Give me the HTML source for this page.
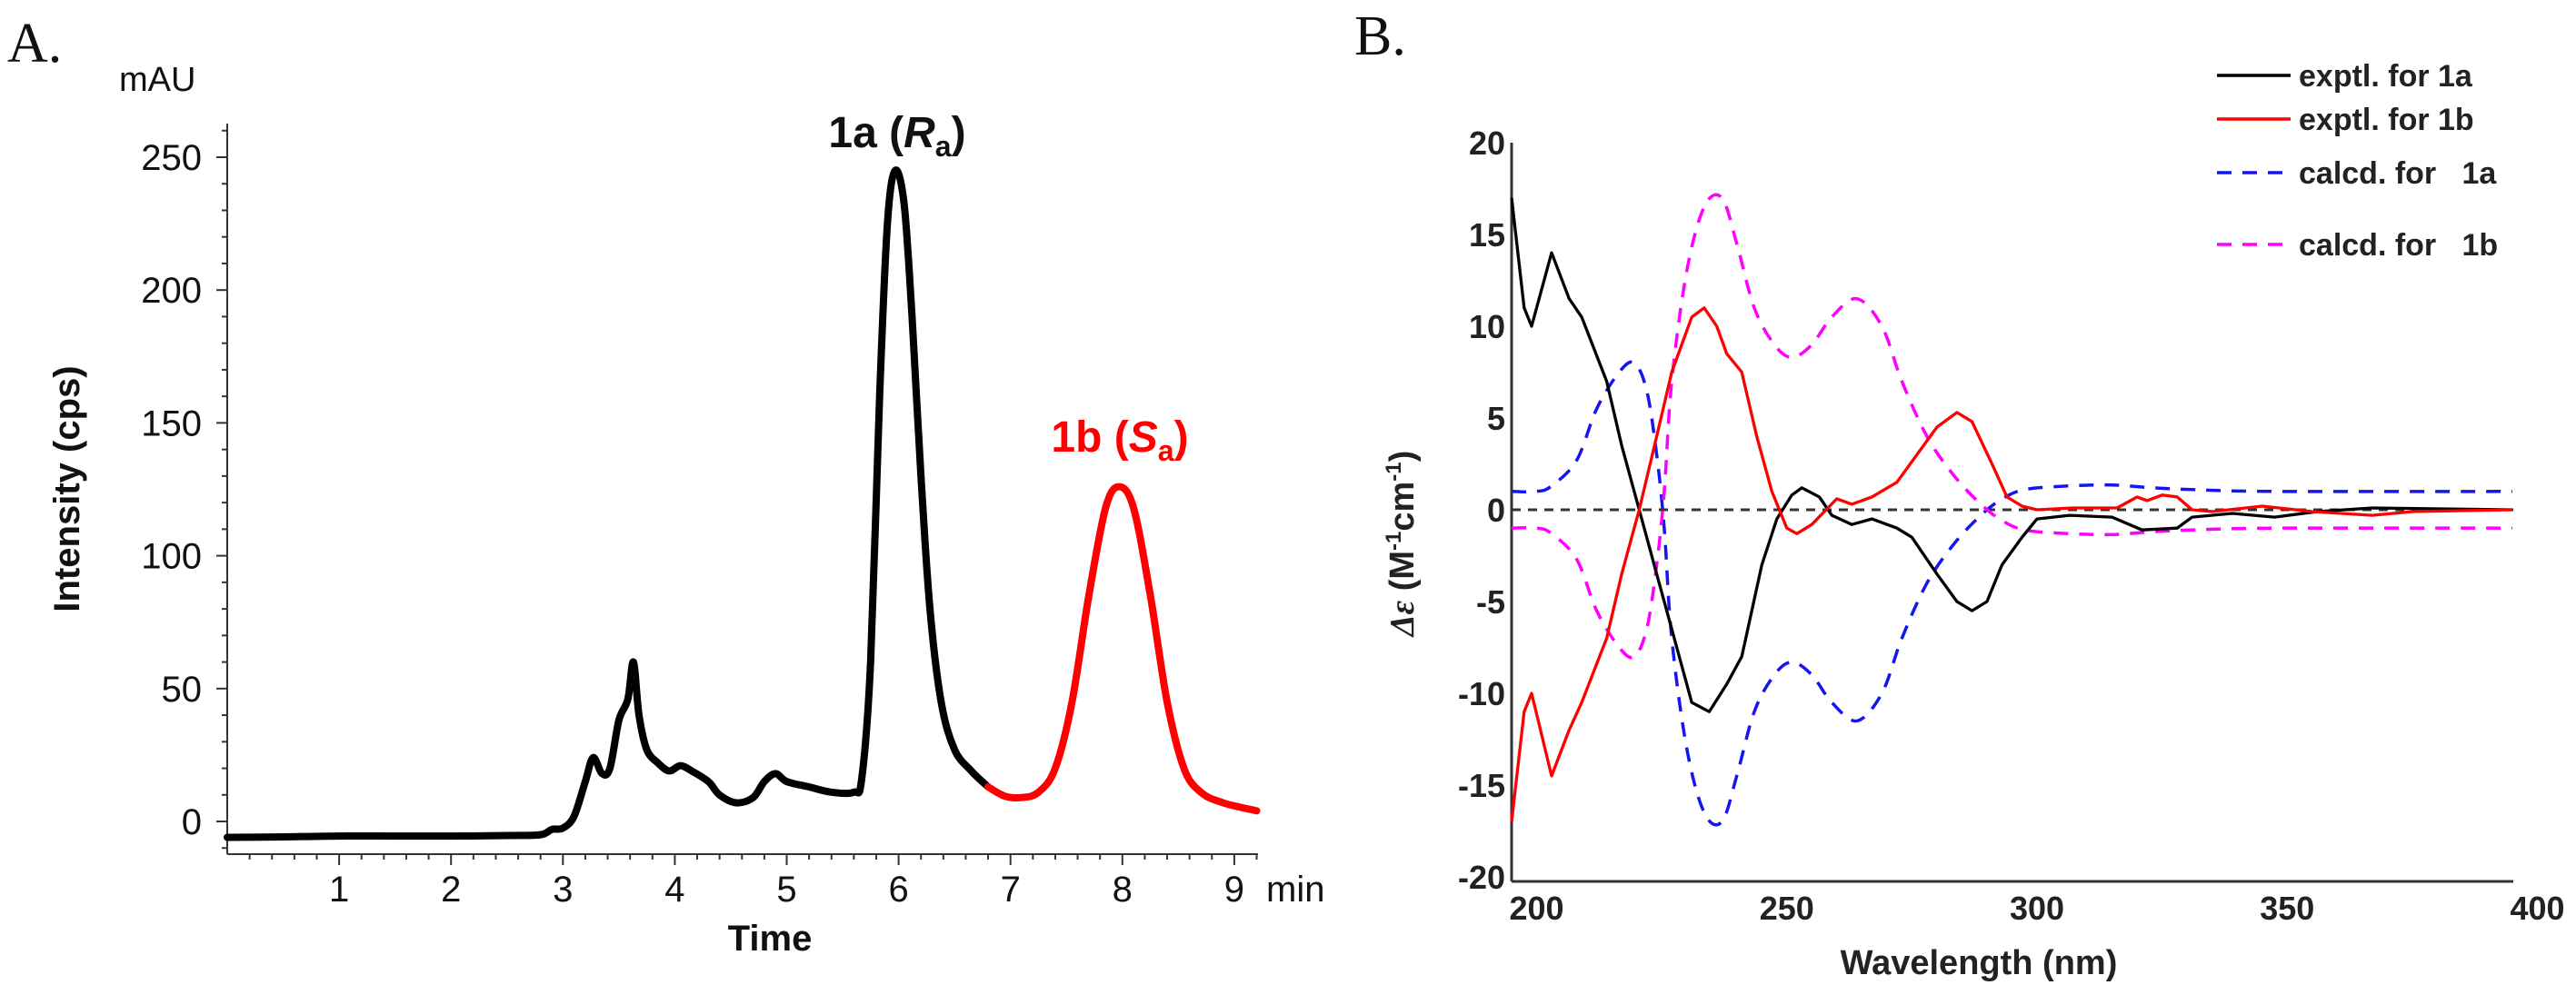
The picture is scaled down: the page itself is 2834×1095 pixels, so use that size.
<!DOCTYPE html>
<html><head><meta charset="utf-8"><style>
html,body{margin:0;padding:0;background:#fff;width:2834px;height:1095px;overflow:hidden}
svg text{font-family:"Liberation Sans",Arial,sans-serif}
svg text.serif{font-family:"Liberation Serif",serif}
</style></head><body>
<svg id="fig" width="2834" height="1095" viewBox="0 0 2834 1095" xmlns="http://www.w3.org/2000/svg">
<g id="pa"></g>
<g id="pb"></g>
</svg>
<script>
// ---- Panel A data (time in min, intensity in mAU)
const hplcTimeBlack=[0,0.5,1,1.5,2,2.5,2.8,2.9,3.0,3.1,3.2,3.27,3.35,3.42,3.5,3.58,3.63,3.68,3.75,3.85,3.95,4.05,4.15,4.3,4.4,4.55,4.7,4.8,4.9,5.0,5.2,5.4,5.6,5.67,5.75,5.83,5.9,5.97,6.05,6.12,6.2,6.28,6.38,6.5,6.65,6.8];
const hplcValBlack=[-6,-5.8,-5.5,-5.5,-5.5,-5.3,-5,-3,-2.5,2,15,24,18,20,38,46,60,40,27,22,19,21,19,15,10,7,9,15,18,15,13,11,11,16,60,160,225,245,232,190,130,80,45,27,19,13];
const hplcTimeRed=[6.8,6.95,7.1,7.25,7.4,7.55,7.7,7.85,7.97,8.1,8.25,8.4,8.55,8.7,8.9,9.2];
const hplcValRed=[13,9.5,9,11,20,45,85,118,126,118,85,45,20,11,7,4];
const aYTicks=[0,50,100,150,200,250];
const aXTicks=[1,2,3,4,5,6,7,8,9];
// ---- Panel B data (wavelength nm, delta epsilon)
const nmBlack=[195,197.5,199,203,206.5,209,214,217,220.5,224,227,231,234.5,238,241,245,248,251,253,256.5,259,263,267,272,275,280,284,287,290,293,297,300,306.5,315,321,328,331,339,347.5,356,367,395];
const deBlack=[17,11,10,14,11.5,10.5,7,3.5,0,-3.5,-6.5,-10.5,-11,-9.5,-8,-3,-0.5,0.8,1.2,0.7,-0.3,-0.8,-0.5,-1,-1.5,-3.5,-5,-5.5,-5,-3,-1.5,-0.5,-0.3,-0.4,-1.1,-1,-0.4,-0.2,-0.4,-0.1,0.1,0];
const nmRed=[195,197.5,199,203,206.5,209,214,217,220.5,224,227,231,233.5,236,238,241,244,247,250,252,255,260,263,267,272,276,280,284,287,291,294,297,300,307,316,320,322,325,328,331,335,345,355,367,375,395];
const deRed=[-17,-11,-10,-14.5,-12,-10.5,-7,-3.5,0,4,7.5,10.5,11,10,8.5,7.5,4,1,-1,-1.3,-0.8,0.6,0.3,0.7,1.5,3,4.5,5.3,4.8,2.5,0.7,0.2,0,0.1,0.1,0.7,0.5,0.8,0.7,0,-0.1,0.2,-0.1,-0.3,-0.1,0];
const nmCalc=[195,200,203,208,212,216.5,219.5,222,224,225.5,227,230,233.5,237,240,243.5,247.5,251,255,259,264,269,273,278,283,288,292.5,297.5,306.5,315,323,331,347.5,395];
const deCalcA=[1,1,1.3,2.7,5.5,7.5,8,6.5,3,-1,-7,-13,-16.5,-17,-14.5,-11,-9,-8.3,-9,-10.5,-11.5,-10,-7,-4,-2,-0.5,0.5,1.1,1.3,1.35,1.2,1.1,1,1];
const deCalcB=[-1,-1,-1.3,-2.7,-5.5,-7.5,-8,-6.5,-3,1,7,13,16.5,17,14.5,11,9,8.3,9,10.5,11.5,10,7,4,2,0.5,-0.5,-1.1,-1.3,-1.35,-1.2,-1.1,-1,-1];
const bYTicks=[-20,-15,-10,-5,0,5,10,15,20];
const bXTicks=[200,250,300,350,400];

const NS='http://www.w3.org/2000/svg';
function mk(parent,tag,attrs,txt){const e=document.createElementNS(NS,tag);for(const k in attrs)e.setAttribute(k,attrs[k]);if(txt!==undefined)e.textContent=txt;parent.appendChild(e);return e;}
function smoothPath(xs,ys,fx,fy){
 const p=xs.map((x,i)=>[fx(x),fy(ys[i])]);
 let d='M'+p[0][0].toFixed(1)+','+p[0][1].toFixed(1);
 for(let i=0;i<p.length-1;i++){
  const p0=p[Math.max(0,i-1)],p1=p[i],p2=p[i+1],p3=p[Math.min(p.length-1,i+2)];
  const c1=[p1[0]+(p2[0]-p0[0])/6,p1[1]+(p2[1]-p0[1])/6];
  const c2=[p2[0]-(p3[0]-p1[0])/6,p2[1]-(p3[1]-p1[1])/6];
  d+=' C'+c1.map(v=>v.toFixed(1)).join(',')+' '+c2.map(v=>v.toFixed(1)).join(',')+' '+p2.map(v=>v.toFixed(1)).join(',');
 }
 return d;
}

// ===== Panel A
const pa=document.getElementById('pa');
const ax=t=>250+t*123.1;
const ay=v=>904-v*2.924;
let e;
e=mk(pa,'text',{x:8,y:68,'font-size':62,fill:'#111',class:'serif'},'A.');


e=mk(pa,'line',{x1:250,y1:136,x2:250,y2:940,stroke:'#333','stroke-width':2});


e=mk(pa,'line',{x1:250,y1:940,x2:1384,y2:940,stroke:'#333','stroke-width':2});


for(let v=-10;v<=260;v+=10){const y=ay(v);if(y<136||y>940)continue;const big=v%50===0;
 e=mk(pa,'line',{x1:big?238:244,y1:y,x2:250,y2:y,stroke:'#333','stroke-width':2});
 
 }
for(let t=0.2;t<=9.2;t+=0.2){const x=ax(t);const big=Math.abs(t-Math.round(t))<0.01;
 e=mk(pa,'line',{x1:x,y1:940,x2:x,y2:big?952:946,stroke:'#333','stroke-width':2});
 
 }
aYTicks.forEach(v=>{e=mk(pa,'text',{x:222,y:ay(v)+14,'text-anchor':'end','font-size':40,fill:'#111'},String(v));
 
 });
aXTicks.forEach(t=>{e=mk(pa,'text',{x:ax(t),y:992,'text-anchor':'middle','font-size':40,fill:'#111'},String(t));
 
 });
e=mk(pa,'text',{x:1393,y:992,'font-size':40,fill:'#111'},'min');


e=mk(pa,'text',{x:131,y:100,'font-size':38,fill:'#111'},'mAU');


e=mk(pa,'text',{x:847,y:1046,'text-anchor':'middle','font-size':40,'font-weight':'bold',fill:'#111'},'Time');


e=mk(pa,'text',{x:0,y:0,'text-anchor':'middle','font-size':40,'font-weight':'bold',fill:'#111',transform:'translate(87,538) rotate(-90)'},'Intensity (cps)');


e=mk(pa,'path',{d:smoothPath(hplcTimeBlack,hplcValBlack,ax,ay),fill:'none',stroke:'#000','stroke-width':8,'stroke-linejoin':'round','stroke-linecap':'round'});


e=mk(pa,'path',{d:smoothPath(hplcTimeRed,hplcValRed,ax,ay),fill:'none',stroke:'#f00','stroke-width':8,'stroke-linejoin':'round','stroke-linecap':'round'});


e=mk(pa,'text',{x:987,y:162,'text-anchor':'middle','font-size':48,'font-weight':'bold',fill:'#111'});
e.innerHTML='1a (<tspan font-style="italic">R</tspan><tspan font-size="32" dy="10">a</tspan><tspan dy="-10">)</tspan>';


e=mk(pa,'text',{x:1232,y:497,'text-anchor':'middle','font-size':48,'font-weight':'bold',fill:'#f00'});
e.innerHTML='1b (<tspan font-style="italic">S</tspan><tspan font-size="32" dy="10">a</tspan><tspan dy="-10">)</tspan>';



// ===== Panel B
const pb=document.getElementById('pb');
const bx=n=>1663+(n-195)*5.505;
const by=v=>561-v*20.2;
e=mk(pb,'text',{x:1490,y:60,'font-size':62,fill:'#111',class:'serif'},'B.');


e=mk(pb,'line',{x1:1663,y1:157,x2:1663,y2:970,stroke:'#333','stroke-width':3});


e=mk(pb,'line',{x1:1663,y1:970,x2:2765,y2:970,stroke:'#333','stroke-width':3});


e=mk(pb,'line',{x1:1663,y1:by(0),x2:2765,y2:by(0),stroke:'#333','stroke-width':3,'stroke-dasharray':'10 8'});


bYTicks.forEach(v=>{e=mk(pb,'text',{x:1656,y:by(v)+13,'text-anchor':'end','font-size':36,'font-weight':'bold',fill:'#222'},String(v));
 
 });
bXTicks.forEach(n=>{e=mk(pb,'text',{x:bx(n),y:1012,'text-anchor':'middle','font-size':36,'font-weight':'bold',fill:'#222'},String(n));
 
 });
e=mk(pb,'text',{x:2177,y:1072,'text-anchor':'middle','font-size':38,'font-weight':'bold',fill:'#222'},'Wavelength (nm)');


e=mk(pb,'text',{x:0,y:0,'text-anchor':'middle','font-size':38,'font-weight':'bold',fill:'#222',transform:'translate(1555,598) rotate(-90)'});
e.innerHTML='<tspan font-style="italic" style="font-family:\'Liberation Serif\',serif">Δε</tspan>  (M<tspan font-size="24" dy="-14">-1</tspan><tspan dy="14">cm</tspan><tspan font-size="24" dy="-14">-1</tspan><tspan dy="14">)</tspan>';


function poly(g,xs,ys,fx,fy,attrs){return mk(g,'path',Object.assign({d:smoothPath(xs,ys,fx,fy),fill:'none','stroke-linejoin':'round','stroke-linecap':'round'},attrs));}
e=poly(pb,nmCalc,deCalcA,bx,by,{stroke:'#1515f0','stroke-width':3.5,'stroke-dasharray':'16 12','stroke-linecap':'butt'});


e=poly(pb,nmCalc,deCalcB,bx,by,{stroke:'#f0f','stroke-width':3.5,'stroke-dasharray':'16 12','stroke-linecap':'butt'});


e=mk(pb,'polyline',{points:nmBlack.map((n,i)=>bx(n).toFixed(1)+','+by(deBlack[i]).toFixed(1)).join(' '),fill:'none',stroke:'#000','stroke-width':3.3,'stroke-linejoin':'round'});


e=mk(pb,'polyline',{points:nmRed.map((n,i)=>bx(n).toFixed(1)+','+by(deRed[i]).toFixed(1)).join(' '),fill:'none',stroke:'#f00','stroke-width':3.3,'stroke-linejoin':'round'});


// legend
const legItems=[['exptl. for 1a','#000',null,83],['exptl. for 1b','#f00',null,131],['calcd. for   1a','#1515f0','16 12',190],['calcd. for   1b','#f0f','16 12',269]];
legItems.forEach(it=>{
 const g=mk(pb,'g',{});
 
 
 const a={x1:2439,y1:it[3],x2:2520,y2:it[3],stroke:it[1],'stroke-width':3.5};
 if(it[2])a['stroke-dasharray']=it[2];
 mk(g,'line',a);
 mk(g,'text',{x:2529,y:it[3]+12,'font-size':34,'font-weight':'bold',fill:'#222',style:'white-space:pre'},it[0]);
});
</script>
</body></html>
